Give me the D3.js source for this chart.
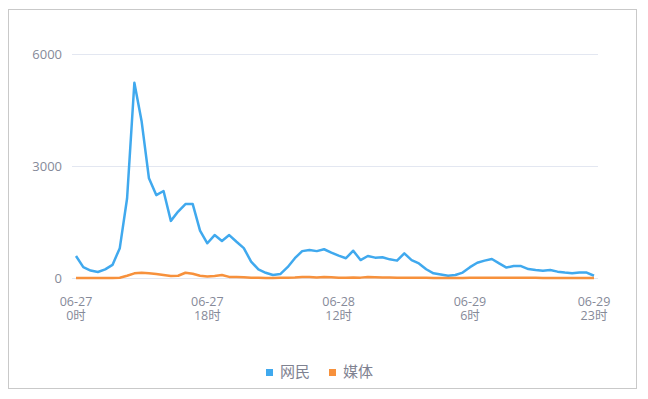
<!DOCTYPE html>
<html>
<head>
<meta charset="utf-8">
<script src="https://cdn.jsdelivr.net/npm/d3@7"></script>
<style>
  body { margin: 0; background: #fff; }
  svg { display: block; font-family: "Open Sans", "Noto Sans CJK SC", sans-serif; }
</style>
</head>
<body>
<svg id="chart" width="648" height="399"></svg>
<script>
// hourly counts, 06-27 0时 .. 06-29 23时
const netizens = [
  590, 290, 200, 160, 230, 350, 800, 2130, 5230, 4190,
  2670, 2220, 2330, 1530, 1780, 1980, 1980, 1270, 930, 1150,
  990, 1150, 970, 800, 440, 230, 140, 80, 105, 290,
  530, 720, 750, 720, 770, 680, 600, 530, 730, 480,
  590, 545, 555, 500, 465, 660, 480, 390, 235, 125,
  95, 60, 80, 145, 290, 410, 465, 510, 390, 280,
  320, 320, 240, 215, 195, 215, 170, 145, 125, 145,
  145, 60
];
const media = [
  0, 0, 0, 0, 0, 0, 5, 60, 125, 140,
  125, 105, 80, 55, 60, 140, 115, 60, 40, 55,
  80, 30, 30, 20, 10, 5, 0, 0, 5, 10,
  15, 25, 25, 15, 30, 20, 10, 10, 15, 10,
  25, 20, 15, 15, 10, 10, 5, 5, 5, 0,
  0, 0, 0, 0, 5, 10, 10, 10, 5, 5,
  5, 5, 5, 5, 0, 0, 0, 0, 0, 0,
  0, 0
];
const seriesNames = ['网民', '媒体'];
const seriesColors = ['#40a9ee', '#f7913c'];
const yTicks = [0, 3000, 6000];
const xTickIndex = [0, 18, 36, 54, 71];
const xTickDates = ['06-27', '06-27', '06-28', '06-29', '06-29'];
const xTickHours = ['0时', '18时', '12时', '6时', '23时'];

const svg = d3.select('#chart');

// outer frame
svg.append('rect')
  .attr('x', 8.5).attr('y', 9.5)
  .attr('width', 628).attr('height', 379)
  .attr('fill', 'none')
  .attr('stroke', '#c9c9c9');

const x = d3.scaleLinear().domain([0, netizens.length - 1]).range([76, 594]);
const y = d3.scaleLinear().domain([0, 6000]).range([278, 54]);

// grid lines
svg.append('g')
  .selectAll('line')
  .data(yTicks)
  .enter()
  .append('line')
  .attr('x1', 72).attr('x2', 598)
  .attr('y1', (d) => y(d) + 0.5).attr('y2', (d) => y(d) + 0.5)
  .attr('stroke', '#e3e7f1')
  .attr('stroke-width', 1);

// y labels
svg.append('g')
  .selectAll('text')
  .data(yTicks)
  .enter()
  .append('text')
  .attr('x', 62)
  .attr('y', (d) => y(d))
  .attr('dy', '0.35em')
  .attr('text-anchor', 'end')
  .attr('fill', '#868a99')
  .style('font-size', '13px')
  .text((d) => d);

// x labels, two rows
const xAxis = svg.append('g')
  .attr('fill', '#868a99')
  .attr('text-anchor', 'middle')
  .style('font-size', '12.5px');
xAxis.selectAll('text.date')
  .data(xTickIndex)
  .enter()
  .append('text')
  .attr('class', 'date')
  .attr('x', (d) => x(d))
  .attr('y', 302)
  .attr('dy', '0.35em')
  .text((d, i) => xTickDates[i]);
xAxis.selectAll('text.hour')
  .data(xTickIndex)
  .enter()
  .append('text')
  .attr('class', 'hour')
  .attr('x', (d) => x(d))
  .attr('y', 316)
  .attr('dy', '0.35em')
  .text((d, i) => xTickHours[i]);

// lines
const line = d3.line()
  .x((d, i) => x(i))
  .y((d) => y(d));

[netizens, media].forEach((data, k) => {
  svg.append('path')
    .datum(data)
    .attr('d', line)
    .attr('fill', 'none')
    .attr('stroke', seriesColors[k])
    .attr('stroke-width', 2.5)
    .attr('stroke-linejoin', 'round');
});

// legend
const legendX = [266, 329];
const legend = svg.append('g')
  .selectAll('g')
  .data(seriesNames)
  .enter()
  .append('g')
  .attr('transform', (d, i) => `translate(${legendX[i]},372)`);
legend.append('rect')
  .attr('x', 0).attr('y', -3)
  .attr('width', 7).attr('height', 7)
  .attr('fill', (d, i) => seriesColors[i]);
legend.append('text')
  .attr('x', 14)
  .attr('y', 0)
  .attr('dy', '0.36em')
  .attr('fill', '#7f8291')
  .style('font-size', '15px')
  .style('font-family', '"Noto Sans CJK SC", sans-serif')
  .text((d) => d);
</script>
</body>
</html>
